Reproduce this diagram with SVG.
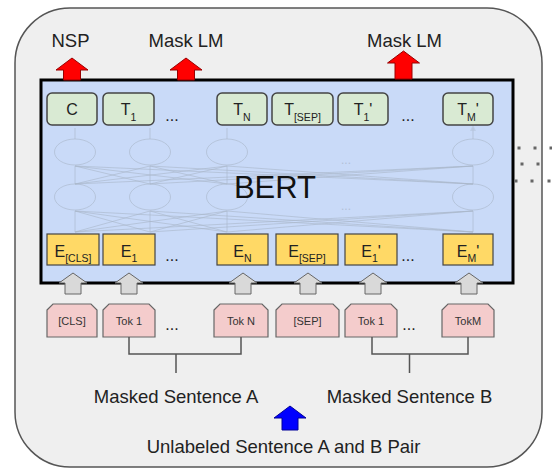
<svg xmlns="http://www.w3.org/2000/svg" width="552" height="472" viewBox="0 0 552 472">
<style>
text{font-family:"Liberation Sans",Arial,sans-serif;fill:#222}
.lbl{font-size:18.5px}
.tbox{fill:#d9ead3;stroke:#444;stroke-width:1.5}
.ebox{fill:#ffd966;stroke:#444;stroke-width:1.2}
.pbox{fill:#f4cccc;stroke:#666;stroke-width:1.2}
.tt{font-size:16px;text-anchor:middle}
.pt{font-size:11px;text-anchor:middle;fill:#333}
.sub{font-size:10.5px}
.dots{font-size:16px;text-anchor:middle}
.garr{fill:#d9d9d9;stroke:#666;stroke-width:1}
.rarr{fill:#ff0000;stroke:#990000;stroke-width:1}
.net{stroke:#a9b5c8;stroke-width:1;fill:none;opacity:0.6}
.conn{stroke:#555;stroke-width:1.5;fill:none}
.sq{fill:#666}
</style>
<defs>
<marker id="na" markerWidth="6" markerHeight="6" refX="3" refY="3" orient="auto"><path d="M0,0 L6,3 L0,6 z" fill="#a9b5c8" opacity="0.6"/></marker>
</defs>
<g id="frame">
<rect x="15" y="8" width="527" height="459" rx="55" ry="55" fill="#efefef" stroke="#555" stroke-width="1.5"/>
</g>
<g id="labels-top">
<text class="lbl" x="70.5" y="47" text-anchor="middle">NSP</text>
<text class="lbl" x="186" y="47" text-anchor="middle">Mask LM</text>
<text class="lbl" x="404.5" y="47" text-anchor="middle">Mask LM</text>
</g>
<g id="bert">
<rect x="41" y="80" width="472" height="203" fill="#c9daf8" stroke="#000" stroke-width="3"/>
<g id="network">
<ellipse class="net" cx="75" cy="152" rx="20.5" ry="13"/>
<ellipse class="net" cx="150" cy="152" rx="20.5" ry="13"/>
<ellipse class="net" cx="227" cy="152" rx="20.5" ry="13"/>
<ellipse class="net" cx="473" cy="152" rx="20.5" ry="13"/>
<ellipse class="net" cx="75" cy="197" rx="20.5" ry="13"/>
<ellipse class="net" cx="150" cy="197" rx="20.5" ry="13"/>
<ellipse class="net" cx="227" cy="197" rx="20.5" ry="13"/>
<ellipse class="net" cx="473" cy="197" rx="20.5" ry="13"/>
<path class="net" marker-end="url(#na)" d="M75,139 V128 M150,139 V128 M227,139 V128 M473,139 V128"/>
<path class="net" d="M75,184 L75,166 M75,184 L150,166 M75,184 L227,166 M75,184 L473,166 M150,184 L75,166 M150,184 L150,166 M150,184 L227,166 M150,184 L473,166 M227,184 L75,166 M227,184 L150,166 M227,184 L227,166 M227,184 L473,166 M473,184 L75,166 M473,184 L150,166 M473,184 L227,166 M473,184 L473,166"/>
<path class="net" d="M75,232 L75,211 M75,232 L150,211 M75,232 L227,211 M75,232 L473,211 M150,232 L75,211 M150,232 L150,211 M150,232 L227,211 M150,232 L473,211 M227,232 L75,211 M227,232 L150,211 M227,232 L227,211 M227,232 L473,211 M473,232 L75,211 M473,232 L150,211 M473,232 L227,211 M473,232 L473,211"/>
<text x="346" y="164" font-size="12" text-anchor="middle" fill="#a9b5c8" style="fill:#a9b5c8;opacity:0.7">...</text>
<text x="346" y="210" font-size="12" text-anchor="middle" style="fill:#a9b5c8;opacity:0.7">...</text>
</g>
<text x="275" y="198" font-size="31" text-anchor="middle" style="fill:#111">BERT</text>
</g>
<g id="T-C"><rect class="tbox" x="47" y="93" width="50" height="32" rx="5"/><text class="tt" x="72" y="115">C</text></g>
<g id="T-1"><rect class="tbox" x="103" y="93" width="51" height="32" rx="5"/><text class="tt" x="128.5" y="115">T<tspan class="sub" dy="6">1</tspan></text></g>
<g id="T-N"><rect class="tbox" x="217" y="93" width="50" height="32" rx="5"/><text class="tt" x="242" y="115">T<tspan class="sub" dy="6">N</tspan></text></g>
<g id="T-SEP"><rect class="tbox" x="272" y="93" width="61" height="32" rx="5"/><text class="tt" x="302.5" y="115">T<tspan class="sub" dy="6">[SEP]</tspan></text></g>
<g id="T-1p"><rect class="tbox" x="338" y="93" width="50" height="32" rx="5"/><text class="tt" x="363" y="115">T<tspan class="sub" dy="6">1</tspan><tspan dy="-6">'</tspan></text></g>
<g id="T-Mp"><rect class="tbox" x="443" y="93" width="50" height="32" rx="5"/><text class="tt" x="468" y="115">T<tspan class="sub" dy="6">M</tspan><tspan dy="-6">'</tspan></text></g>
<text class="dots" x="172" y="121">...</text>
<text class="dots" x="408" y="121">...</text>
<g id="E-CLS"><rect class="ebox" x="47" y="234" width="52" height="31"/><text class="tt" x="73" y="257">E<tspan class="sub" dy="5">[CLS]</tspan></text></g>
<g id="E-1"><rect class="ebox" x="103" y="234" width="52" height="31"/><text class="tt" x="129" y="257">E<tspan class="sub" dy="5">1</tspan></text></g>
<g id="E-N"><rect class="ebox" x="217" y="234" width="51" height="31"/><text class="tt" x="242.5" y="257">E<tspan class="sub" dy="5">N</tspan></text></g>
<g id="E-SEP"><rect class="ebox" x="276" y="234" width="62" height="31"/><text class="tt" x="307" y="257">E<tspan class="sub" dy="5">[SEP]</tspan></text></g>
<g id="E-1p"><rect class="ebox" x="345" y="234" width="52" height="31"/><text class="tt" x="371" y="257">E<tspan class="sub" dy="5">1</tspan><tspan dy="-5">'</tspan></text></g>
<g id="E-Mp"><rect class="ebox" x="443" y="234" width="50" height="31"/><text class="tt" x="468" y="257">E<tspan class="sub" dy="5">M</tspan><tspan dy="-5">'</tspan></text></g>
<text class="dots" x="172" y="261">...</text>
<text class="dots" x="408" y="261">...</text>
<g id="red-arrows">
<polygon class="rarr" points="72,58 88,70 80.5,70 80.5,80 63.5,80 63.5,70 56,70"/>
<polygon class="rarr" points="186,58 202,70 194.5,70 194.5,80 177.5,80 177.5,70 170,70"/>
<polygon class="rarr" points="403.5,51 419.5,63 412,63 412,79 395,79 395,63 387.5,63"/>
</g>
<g id="gray-arrows">
<polygon class="garr" points="73,273 87,283 81,283 81,294 65,294 65,283 59,283"/>
<polygon class="garr" points="129,273 143,283 137,283 137,294 121,294 121,283 115,283"/>
<polygon class="garr" points="243,273 257,283 251,283 251,294 235,294 235,283 229,283"/>
<polygon class="garr" points="308,273 322,283 316,283 316,294 300,294 300,283 294,283"/>
<polygon class="garr" points="373,273 387,283 381,283 381,294 365,294 365,283 359,283"/>
<polygon class="garr" points="469,273 483,283 477,283 477,294 461,294 461,283 455,283"/>
</g>
<g id="tok-CLS"><path class="pbox" d="M47,310 L53,304 L91,304 L97,310 L97,337 L47,337 Z"/><text class="pt" x="72" y="325">[CLS]</text></g>
<g id="tok-1"><path class="pbox" d="M103,310 L109,304 L149,304 L155,310 L155,337 L103,337 Z"/><text class="pt" x="129" y="325">Tok 1</text></g>
<g id="tok-N"><path class="pbox" d="M214,310 L220,304 L262,304 L268,310 L268,337 L214,337 Z"/><text class="pt" x="241" y="325">Tok N</text></g>
<g id="tok-SEP"><path class="pbox" d="M276,310 L282,304 L333,304 L339,310 L339,337 L276,337 Z"/><text class="pt" x="307.5" y="325">[SEP]</text></g>
<g id="tok-1p"><path class="pbox" d="M345,310 L351,304 L391,304 L397,310 L397,337 L345,337 Z"/><text class="pt" x="371" y="325">Tok 1</text></g>
<g id="tok-M"><path class="pbox" d="M442,310 L448,304 L488,304 L494,310 L494,337 L442,337 Z"/><text class="pt" x="468" y="325">TokM</text></g>
<text class="dots" x="172" y="330">...</text>
<text class="dots" x="409" y="330">...</text>
<g id="connectors">
<path class="conn" d="M129,337 V354 H241 V337 M176,354 V373"/>
<path class="conn" d="M372,337 V354 H468 V337 M409.5,354 V373"/>
</g>
<g id="labels-bottom">
<text class="lbl" x="176" y="403" text-anchor="middle">Masked Sentence A</text>
<text class="lbl" x="409.5" y="403" text-anchor="middle">Masked Sentence B</text>
<polygon points="290,406 306,418 298,418 298,430 282,430 282,418 274,418" fill="#0000ff" stroke="#000099" stroke-width="1"/>
<text class="lbl" x="283.5" y="453" text-anchor="middle">Unlabeled Sentence A and B Pair</text>
</g>
<g id="edge-dots">
<rect class="sq" x="517.5" y="146.5" width="3" height="3"/>
<rect class="sq" x="533.5" y="146.5" width="3" height="3"/>
<rect class="sq" x="549.5" y="146.5" width="3" height="3"/>
<rect class="sq" x="520.5" y="162.5" width="3" height="3"/>
<rect class="sq" x="536.5" y="162.5" width="3" height="3"/>
<rect class="sq" x="514.5" y="179.5" width="3" height="3"/>
<rect class="sq" x="530.5" y="179.5" width="3" height="3"/>
<rect class="sq" x="547.5" y="179.5" width="3" height="3"/>
</g>
</svg>
